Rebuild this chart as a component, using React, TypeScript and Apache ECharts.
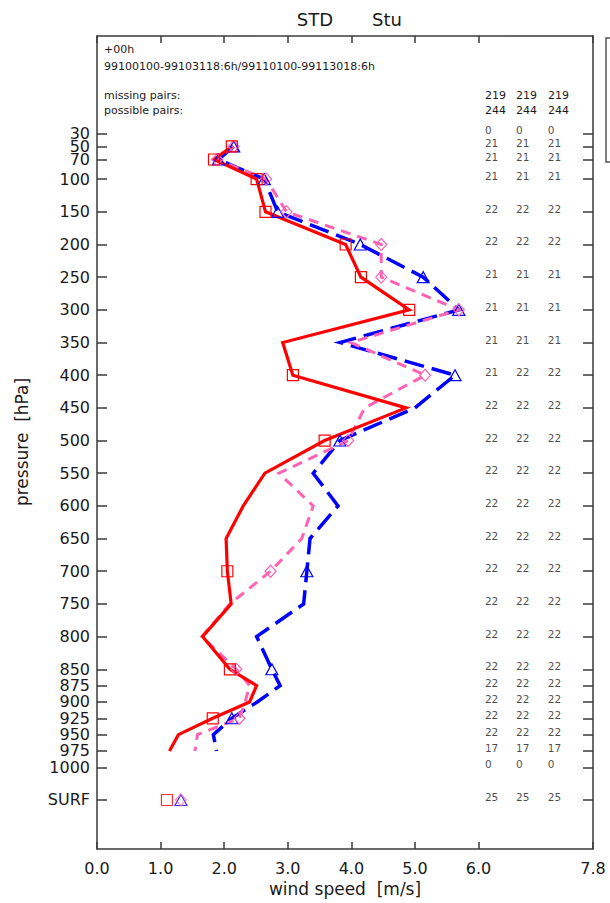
import React, { useEffect, useRef } from "react";
import * as echarts from "echarts";

// Pressure levels (hPa) of the upper-air profile
const levels = [50, 70, 100, 150, 200, 250, 300, 350, 400, 450, 500, 550, 600, 650, 700, 750, 800, 850, 875, 900, 925, 950, 975];
// Standard levels that carry a marker
const markerLevels = [50, 70, 100, 150, 200, 250, 300, 400, 500, 700, 850, 925];

// Wind speed STD (m/s) per level
const redSpeed = [2.12, 1.84, 2.51, 2.65, 3.91, 4.15, 4.91, 2.92, 3.08, 4.86, 3.58, 2.64, 2.30, 2.03, 2.05, 2.11, 1.66, 2.09, 2.51, 2.40, 1.82, 1.28, 1.14];
const blueSpeed = [2.15, 1.91, 2.63, 2.84, 4.14, 5.13, 5.69, 3.82, 5.63, 5.00, 3.82, 3.40, 3.79, 3.35, 3.30, 3.25, 2.51, 2.75, 2.88, 2.52, 2.12, 1.83, 1.88];
const pinkSpeed = [2.15, 1.89, 2.66, 2.98, 4.47, 4.47, 5.69, 3.99, 5.16, 4.21, 3.95, 2.86, 3.40, 3.22, 2.73, 2.09, 1.65, 2.19, 2.40, 2.33, 2.24, 1.58, 1.54];

// Surface values, plotted at a pseudo level below 1000 hPa
const surfLevel = 1050;
const redSurf = 1.10;
const blueSurf = 1.32;
const pinkSurf = 1.32;

// Axis ticks
const tickLevels = [30, 50, 70, 100, 150, 200, 250, 300, 350, 400, 450, 500, 550, 600, 650, 700, 750, 800, 850, 875, 900, 925, 950, 975, 1000, 1050];
const xTicks = [0, 1, 2, 3, 4, 5, 6, 7.8];
// The crowded 50 hPa label is laid out on its own so it is never dropped
const crowdedLevels = [50];

// Number of pairs per level, one column per experiment
const countsA = [0, 21, 21, 21, 22, 22, 21, 21, 21, 21, 22, 22, 22, 22, 22, 22, 22, 22, 22, 22, 22, 22, 22, 17, 0, 25];
const countsB = [0, 21, 21, 21, 22, 22, 21, 21, 21, 22, 22, 22, 22, 22, 22, 22, 22, 22, 22, 22, 22, 22, 22, 17, 0, 25];
const countsC = [0, 21, 21, 21, 22, 22, 21, 21, 21, 22, 22, 22, 22, 22, 22, 22, 22, 22, 22, 22, 22, 22, 22, 17, 0, 25];
const missingPairs = [219, 219, 219];
const possiblePairs = [244, 244, 244];

const FONT = "DejaVu Sans";
const AXIS = "#3a3a3a";
const TXT = "#1a1a1a";
const RED = "#ff0000";
const BLUE = "#0000ff";
const PINK = "#ff63b4";

// x positions (in m/s) of the count columns
const countColX = [6.1, 6.59, 7.09];
const countColPx = [485, 516, 548];

function profileData(speeds: number[], symbol: string, size: number | number[]) {
  return levels.map((p, i) => ({
    value: [speeds[i], p],
    symbol: markerLevels.includes(p) ? symbol : "none",
    symbolSize: size,
  }));
}

function lineSeries(speeds: number[], color: string, symbol: string, size: number | number[], dash: any, width: number) {
  return {
    type: "line",
    data: profileData(speeds, symbol, size),
    lineStyle: { color, width, type: dash, cap: "butt", join: "miter" },
    itemStyle: { color: "rgba(0,0,0,0)", borderColor: color, borderWidth: 1.2 },
    showAllSymbol: true,
    clip: false,
  };
}

function surfSeries(speed: number, color: string, symbol: string, size: number | number[]) {
  return {
    type: "scatter",
    data: [[speed, surfLevel]],
    symbol,
    symbolSize: size,
    itemStyle: { color: "rgba(0,0,0,0)", borderColor: color, borderWidth: 1.2 },
  };
}

function countSeries(counts: number[], col: number) {
  return {
    type: "scatter",
    data: tickLevels.map((p, i) => [countColX[col], p, counts[i]]),
    symbolSize: 0,
    itemStyle: { color: "rgba(0,0,0,0)" },
    label: {
      show: true,
      position: "right",
      distance: 0,
      offset: [0, -3],
      formatter: (d: any) => String(d.value[2]),
      fontFamily: FONT,
      fontSize: 10.5,
      color: TXT,
    },
    silent: true,
  };
}

const axisLine = { show: true, onZero: false, lineStyle: { color: AXIS, width: 1.5 } };

const levelLabel = (v: number) => (v === surfLevel ? "SURF" : String(v));

export default function App() {
  const ref = useRef<HTMLDivElement>(null);

  useEffect(() => {
    if (!ref.current) return;
    const chart = echarts.init(ref.current, undefined, { renderer: "svg" });

    const xAxisBase = {
      type: "value",
      min: 0,
      max: 7.8,
      axisLine,
      splitLine: { show: false },
      axisTick: { show: true, inside: true, length: 7, customValues: xTicks, lineStyle: { color: AXIS, width: 1.5 } },
    };
    const yAxisBase = {
      type: "value",
      inverse: true,
      min: -119,
      max: 1125,
      axisLine,
      splitLine: { show: false },
      axisTick: { show: true, inside: true, length: 10, customValues: tickLevels, lineStyle: { color: AXIS, width: 1.5 } },
    };
    const yLabelStyle = {
      margin: 7,
      showMinLabel: true,
      showMaxLabel: true,
      hideOverlap: false,
      formatter: levelLabel,
      fontFamily: FONT,
      fontSize: 16,
      color: TXT,
    };

    const headerText = (text: string, x: number, y: number, align = "left") => ({
      type: "text",
      x,
      y,
      style: { text, font: `11px '${FONT}'`, fill: TXT, textAlign: align, textVerticalAlign: "middle" },
    });

    chart.setOption({
      animation: false,
      backgroundColor: "#ffffff",
      grid: { left: 97, right: 17, top: 36, bottom: 54, containLabel: false },
      xAxis: [
        {
          ...xAxisBase,
          position: "bottom",
          axisLabel: {
            customValues: xTicks,
            formatter: (v: number) => v.toFixed(1),
            margin: 11,
            showMinLabel: true,
            showMaxLabel: true,
            fontFamily: FONT,
            fontSize: 16,
            color: TXT,
          },
        },
        { ...xAxisBase, position: "top", axisLabel: { show: false } },
      ],
      yAxis: [
        {
          ...yAxisBase,
          position: "left",
          axisLabel: { ...yLabelStyle, customValues: tickLevels.filter((v) => !crowdedLevels.includes(v)) },
        },
        { ...yAxisBase, position: "right", axisLabel: { show: false } },
        {
          ...yAxisBase,
          position: "left",
          axisLine: { show: false, onZero: false },
          axisTick: { show: false },
          axisLabel: { ...yLabelStyle, customValues: crowdedLevels },
        },
      ],
      series: [
        lineSeries(blueSpeed, BLUE, "triangle", [12, 11], [20, 8], 3.5),
        lineSeries(pinkSpeed, PINK, "diamond", [11, 12], [10, 7], 3),
        lineSeries(redSpeed, RED, "rect", 11, "solid", 3.2),
        surfSeries(blueSurf, BLUE, "triangle", [12, 11]),
        surfSeries(pinkSurf, PINK, "diamond", [11, 12]),
        surfSeries(redSurf, RED, "rect", 11),
        countSeries(countsA, 0),
        countSeries(countsB, 1),
        countSeries(countsC, 2),
      ],
      graphic: [
        { type: "text", x: 315, y: 19, style: { text: "STD", font: `18px '${FONT}'`, fill: TXT, textAlign: "center", textVerticalAlign: "middle" } },
        { type: "text", x: 387, y: 19, style: { text: "Stu", font: `18px '${FONT}'`, fill: TXT, textAlign: "center", textVerticalAlign: "middle" } },
        headerText("+00h", 104, 49),
        headerText("99100100-99103118:6h/99110100-99113018:6h", 104, 66),
        headerText("missing pairs:", 104, 95),
        headerText("possible pairs:", 104, 110),
        ...missingPairs.map((v, i) => headerText(String(v), countColPx[i], 95)),
        ...possiblePairs.map((v, i) => headerText(String(v), countColPx[i], 110)),
        {
          type: "text",
          x: 22,
          y: 442,
          rotation: Math.PI / 2,
          style: { text: "pressure  [hPa]", font: `17px '${FONT}'`, fill: TXT, textAlign: "center", textVerticalAlign: "middle" },
        },
        { type: "text", x: 345, y: 889, style: { text: "wind speed  [m/s]", font: `17px '${FONT}'`, fill: TXT, textAlign: "center", textVerticalAlign: "middle" } },
        { type: "rect", shape: { x: 606, y: 38, width: 30, height: 124 }, style: { fill: "none", stroke: "#555", lineWidth: 1.5 } },
      ],
    });

    return () => chart.dispose();
  }, []);

  return <div ref={ref} style={{ position: "absolute", left: 0, top: 0, width: 610, height: 903 }} />;
}
